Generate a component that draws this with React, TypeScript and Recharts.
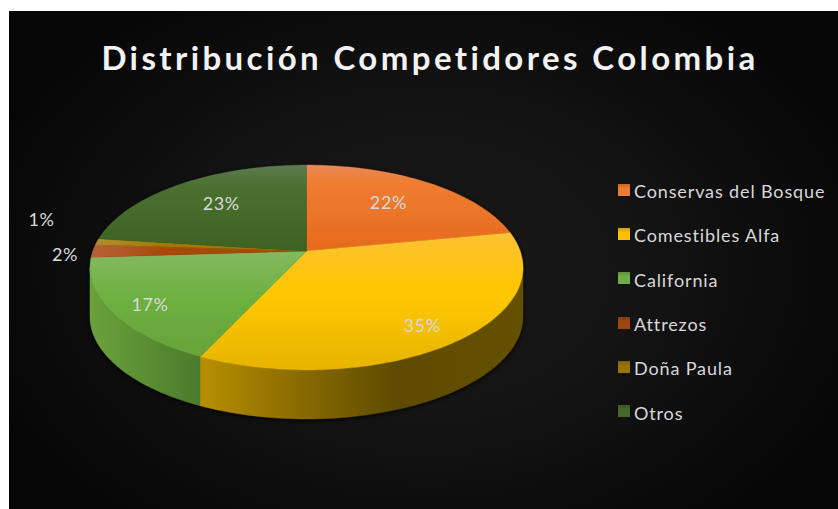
import { Legend, Pie, PieChart } from "recharts";

const categories = ["Conservas del Bosque", "Comestibles Alfa", "California", "Attrezos", "Doña Paula", "Otros"];
const shares = [22, 35, 17, 2, 1, 23];
const colors = ["#ed7d31", "#ffc000", "#70ad47", "#9e480e", "#997300", "#43682b"];

// label placement, as a fraction of the radius plus a small pixel nudge
const labelRadius = [0.65, 0.8, 0.82, 1.13, 1.25, 0.65];
const labelNudge = [[0, -3], [-1, 4], [0, 3], [0, 3], [-4, -20], [0, -3]];

const tableData = categories.map((name, i) => ({ name, value: shares[i] }));

const FONT = "Lato, sans-serif";
const CX = 306.5;
const CY = 251;
const RADIUS = 213.7;
const VERTICAL = 99.8 / 213.7; // squash of the tilted disc
const PERSPECTIVE = 0.161; // front of the disc is nearer than the back
const DEPTH = 49;

// turn a pie point (angle clockwise from 12 o'clock, radius fraction) into screen space
function project(cx: number, cy: number, radius: number, theta: number, r = 1) {
  const rad = (theta * Math.PI) / 180;
  const x = r * Math.sin(rad);
  const y = -r * Math.cos(rad);
  const w = 1 - PERSPECTIVE * y;
  return [cx + (radius * x) / w, cy + (radius * VERTICAL * y) / w];
}

function rimPoints(cx: number, cy: number, radius: number, from: number, to: number) {
  const pts: number[][] = [];
  const steps = Math.max(2, Math.ceil((to - from) / 1.5));
  for (let i = 0; i <= steps; i++) {
    pts.push(project(cx, cy, radius, from + ((to - from) * i) / steps));
  }
  return pts;
}

const toPath = (pts: number[][]) => pts.map((p, i) => `${i ? "L" : "M"}${p[0].toFixed(2)} ${p[1].toFixed(2)}`).join(" ");

// front wall is only visible between the two silhouette angles
const WALL_FROM = 99.3;
const WALL_TO = 260.7;

function TiltedSector(props: any) {
  const { cx, cy, outerRadius, startAngle, endAngle, index } = props;
  const from = 90 - startAngle;
  const to = 90 - endAngle;
  const rim = rimPoints(cx, cy, outerRadius, from, to);
  const wallFrom = Math.max(from, WALL_FROM);
  const wallTo = Math.min(to, WALL_TO);
  let wall = null;
  if (wallTo > wallFrom) {
    const edge = rimPoints(cx, cy, outerRadius, wallFrom, wallTo);
    const lower = edge.map((p) => [p[0], p[1] + DEPTH]).reverse();
    wall = <path d={toPath([...edge, ...lower]) + " Z"} fill={`url(#side${index})`} stroke={`url(#side${index})`} strokeWidth={0.5} />;
  }
  return (
    <g>
      {wall}
      <path d={toPath([[cx, cy], ...rim]) + " Z"} fill={`url(#top${index})`} stroke={`url(#top${index})`} strokeWidth={0.4} />
    </g>
  );
}

function renderLabel(props: any) {
  const { cx, cy, outerRadius, midAngle, index } = props;
  const [x, y] = project(cx, cy, outerRadius, 90 - midAngle, labelRadius[index]);
  return (
    <text
      x={x + labelNudge[index][0]}
      y={y + labelNudge[index][1]}
      textAnchor="middle"
      dominantBaseline="central"
      fill="#d9d9d9"
      fontFamily={FONT}
      fontSize={18}
      letterSpacing={0.6}
    >
      {shares[index]}%
    </text>
  );
}

function renderLegend() {
  return (
    <div style={{ fontFamily: FONT, fontSize: 18, color: "#d9d9d9", letterSpacing: 0.87 }}>
      {categories.map((name, i) => (
        <div key={name} style={{ display: "flex", alignItems: "center", height: 44.3, whiteSpace: "nowrap" }}>
          <span
            style={{
              width: 12,
              height: 12,
              marginRight: 4,
              marginTop: -3,
              background: `linear-gradient(${colors[i]}cc, ${colors[i]} 40%)`,
            }}
          />
          {name}
        </div>
      ))}
    </div>
  );
}

export default function App() {
  return (
    <div style={{ position: "absolute", left: 0, top: 0, width: 838, height: 509, background: "#fff" }}>
      <style>{`.recharts-pie { filter: drop-shadow(0 1px 2px #000); }`}</style>
      <div
        style={{
          position: "absolute",
          left: 9,
          top: 11,
          width: 829,
          height: 498,
          background: "radial-gradient(ellipse 470px 330px at 50% 52%, #191919 0%, #141414 45%, #060606 100%)",
        }}
      />
      <PieChart
        width={838}
        height={509}
        margin={{ top: 0, right: 0, bottom: 0, left: 0 }}
        style={{ position: "absolute", left: 0, top: 0 }}
      >
        <defs>
          <linearGradient id="top0" gradientUnits="userSpaceOnUse" x1="0" y1="165" x2="0" y2="250">
            <stop offset="0" stopColor="#e9895a" />
            <stop offset="0.2" stopColor="#f07d32" />
            <stop offset="1" stopColor="#e66b1c" />
          </linearGradient>
          <linearGradient id="top1" gradientUnits="userSpaceOnUse" x1="0" y1="232" x2="0" y2="370">
            <stop offset="0" stopColor="#fdc133" />
            <stop offset="0.45" stopColor="#ffc800" />
            <stop offset="1" stopColor="#e6b400" />
          </linearGradient>
          <linearGradient id="top2" gradientUnits="userSpaceOnUse" x1="0" y1="252" x2="0" y2="358">
            <stop offset="0" stopColor="#82ba60" />
            <stop offset="0.45" stopColor="#6eb040" />
            <stop offset="1" stopColor="#66a33a" />
          </linearGradient>
          <linearGradient id="top3" gradientUnits="userSpaceOnUse" x1="90" y1="0" x2="306" y2="0">
            <stop offset="0" stopColor="#b9623a" />
            <stop offset="0.35" stopColor="#a8490a" />
            <stop offset="1" stopColor="#a34a08" />
          </linearGradient>
          <linearGradient id="top4" gradientUnits="userSpaceOnUse" x1="90" y1="0" x2="306" y2="0">
            <stop offset="0" stopColor="#b08f32" />
            <stop offset="0.35" stopColor="#a07a00" />
            <stop offset="1" stopColor="#9a7400" />
          </linearGradient>
          <linearGradient id="top5" gradientUnits="userSpaceOnUse" x1="0" y1="165" x2="0" y2="250">
            <stop offset="0" stopColor="#5c7b50" />
            <stop offset="0.25" stopColor="#4a7030" />
            <stop offset="1" stopColor="#3d6222" />
          </linearGradient>
          <linearGradient id="side1" gradientUnits="userSpaceOnUse" x1="203" y1="0" x2="515" y2="0">
            <stop offset="0" stopColor="#b58e00" />
            <stop offset="0.3" stopColor="#8a6c00" />
            <stop offset="0.62" stopColor="#5e4b00" />
            <stop offset="1" stopColor="#635000" />
          </linearGradient>
          <linearGradient id="side2" gradientUnits="userSpaceOnUse" x1="92" y1="0" x2="203" y2="0">
            <stop offset="0" stopColor="#6aa13b" />
            <stop offset="1" stopColor="#4a7a2c" />
          </linearGradient>
        </defs>
        <text
          x={430}
          y={57}
          textAnchor="middle"
          dominantBaseline="central"
          fill="#f2f2f2"
          fontFamily={FONT}
          fontWeight={700}
          fontSize={33}
          letterSpacing={3.4}
        >
          Distribución Competidores Colombia
        </text>
        <Pie
          data={tableData}
          dataKey="value"
          nameKey="name"
          cx={CX}
          cy={CY}
          outerRadius={RADIUS}
          startAngle={90}
          endAngle={-270}
          stroke="none"
          shape={TiltedSector}
          label={renderLabel}
          labelLine={false}
          isAnimationActive={false}
        />
        <Legend
          content={renderLegend}
          layout="vertical"
          align="right"
          verticalAlign="top"
          wrapperStyle={{ left: 618, right: "auto", top: 169, width: 215 }}
        />
      </PieChart>
    </div>
  );
}
